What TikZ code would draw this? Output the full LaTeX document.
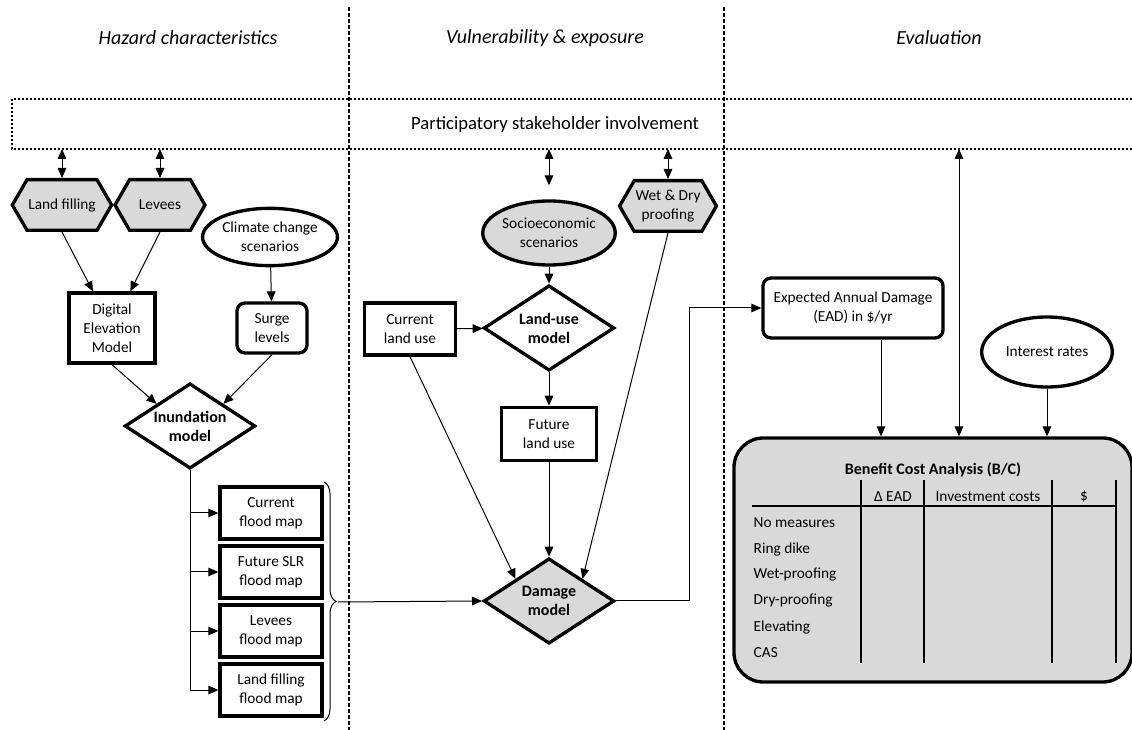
\documentclass[tikz,border=0pt]{standalone}
\usepackage{fontspec}
\setmainfont{Carlito}
\usetikzlibrary{shapes.geometric,shapes.symbols,arrows.meta,decorations.pathreplacing}

\begin{document}
\begin{tikzpicture}[x=0.75pt,y=-0.75pt,
	every node/.style={font=\fontsize{11.5}{14.25}\selectfont, align=center},
	box/.style={draw, line width=2.5pt, inner sep=1pt},
	hexa/.style={signal, signal to=east and west, signal pointer angle=120, draw, line width=2.5pt, fill=black!15, minimum width=67.5pt, minimum height=38pt, inner sep=1pt},
	oval/.style={ellipse, draw, line width=2.5pt, inner sep=0pt},
	model/.style={diamond, draw, line width=2.5pt, inner sep=0pt, aspect=1.55, minimum width=98pt, minimum height=64pt, font=\fontsize{12}{14.25}\selectfont\bfseries},
	conn/.style={line width=0.75pt, -{Triangle[length=7.5pt,width=6.5pt]}},
	link/.style={line width=0.75pt, {Triangle[length=7.5pt,width=6.5pt]}-{Triangle[length=7.5pt,width=6.5pt]}},
	colsep/.style={line width=1pt, dash pattern=on 3pt off 1.5pt},
	stakebox/.style={line width=1.5pt, dash pattern=on 1.5pt off 1.5pt},
	heading/.style={font=\fontsize{15}{18}\selectfont\itshape},
	tabline/.style={line width=1.5pt}]
			\useasboundingbox (0,0) rectangle (1132,730);
			% Columns
			\node[heading] (hz) at (188,38) {Hazard characteristics};
			\node[heading] (vu) at (545,38) {Vulnerability \& exposure};
			\node[heading] (ev) at (939,38) {Evaluation};
			\draw[colsep] (349,7) -- (349,730);
			\draw[colsep] (724,7) -- (724,730);
			% Stakeholders
			\draw[stakebox] (12,99) rectangle (1140,149);
			\node[font=\fontsize{14}{17}\selectfont] (psi) at (555,125) {Participatory stakeholder involvement};
			\coordinate (s1) at (62,149);
			\coordinate (s2) at (160,149);
			\coordinate (s3) at (549,149);
			\coordinate (s4) at (668,149);
			\coordinate (s5) at (959,149);
			% Hazard characteristics
			\node[hexa] (fill) at (62,205) {Land filling};
			\node[hexa] (lev) at (160,205) {Levees};
			\node[oval, minimum width=99pt, minimum height=43pt] (ccs) at (270,237) {Climate change\\scenarios};
			\node[box, minimum width=64.5pt, minimum height=52.5pt] (dem) at (112,328) {Digital\\Elevation\\Model};
			\node[box, rounded corners=6pt, minimum width=52.5pt, minimum height=37.5pt] (surge) at (272,328) {Surge\\levels};
			\node[model] (inund) at (190,426) {Inundation\\model};
			\foreach \lab [count=\i] in {{Current\\flood map},{Future SLR\\flood map},{Levees\\flood map},{Land filling\\flood map}}
				\node[box, minimum width=76.5pt, minimum height=39pt] (fm\i) at (271,454+59*\i) {\lab};
			\draw[line width=0.75pt, decorate, decoration={brace, amplitude=9pt}] (324,482) -- (324,721); % Brace
			\coordinate (bt) at (338,602);
			% Vulnerability & exposure
			\node[oval, fill=black!15, minimum width=99pt, minimum height=48pt] (socio) at (549,233) {Socioeconomic\\scenarios};
			\node[hexa] (wdp) at (668,206) {Wet \& Dry\\proofing};
			\node[box, minimum width=68pt, minimum height=39pt] (clu) at (410,329) {Current\\land use};
			\node[model] (lum) at (549,328) {Land-use\\model};
			\node[box, minimum width=71pt, minimum height=40pt] (flu) at (549,434) {Future\\land use};
			\node[model, fill=black!15] (dam) at (549,601) {Damage\\model};
			% Evaluation
			\node[box, rounded corners=6pt, minimum width=135pt, minimum height=45pt] (ead) at (853,308) {Expected Annual Damage\\(EAD) in \$/yr};
			\node[oval, minimum width=98pt, minimum height=52.5pt] (ir) at (1047,352) {Interest rates};
			\node[box, rounded corners=22pt, fill=black!15, minimum width=298.5pt, minimum height=183pt] (bca) at (933,560) {};
			\node[font=\fontsize{12}{14}\selectfont\bfseries] (bcat) at (933,470) {Benefit Cost Analysis (B/C)};
			\node (h1) at (893,497) {Δ EAD};
			\node (h2) at (988,497) {Investment costs};
			\node (h3) at (1084,497) {\$};
			\foreach \cx in {861,924,1052,1116}
				\draw[tabline] (\cx,480) -- (\cx,663);
			\draw[tabline] (752,506) -- (1116,506);
			\foreach \lab [count=\i] in {No measures, Ring dike, Wet-proofing, Dry-proofing, Elevating, CAS}
				\node[anchor=west] (row\i) at (749,497+26*\i) {\lab};
			% Connectors
			\draw[link] (s1) -- (fill.north);
			\draw[link] (s2) -- (lev.north);
			\draw[link] (s3) -- ([yshift=10.5pt]socio.north);
			\draw[link] (s4) -- (wdp.north);
			\draw[link] (s5) -- (s5 |- bca.north);
			\draw[conn] (fill.south) -- (dem);
			\draw[conn] (lev.south) -- (dem);
			\draw[conn] (ccs) -- (surge);
			\draw[conn] (dem.south) -- (inund.north west);
			\draw[conn] (surge.south) -- (inund.north east);
			\draw[line width=0.75pt] (inund.south) -- (inund.south |- fm4.west);
			\foreach \i in {1,...,4}
				\draw[conn] (inund.south |- fm\i.west) -- (fm\i.west);
			\draw[conn] (bt) -- (dam.west);
			\draw[conn] (socio) -- (lum);
			\draw[conn] (clu) -- (lum);
			\draw[conn] (lum) -- (flu);
			\draw[conn] (flu) -- (dam);
			\draw[conn] (clu.south) -- (dam.north west);
			\draw[conn] (wdp.south) -- (dam.north east);
			\draw[conn] (dam.east) -- ++(73,0) |- (ead.west);
			\draw[conn] ([xshift=21pt]ead.south) -- ([xshift=21pt]ead.south |- bca.north);
			\draw[conn] (ir) -- (ir |- bca.north);
		\end{tikzpicture}
\end{document}
